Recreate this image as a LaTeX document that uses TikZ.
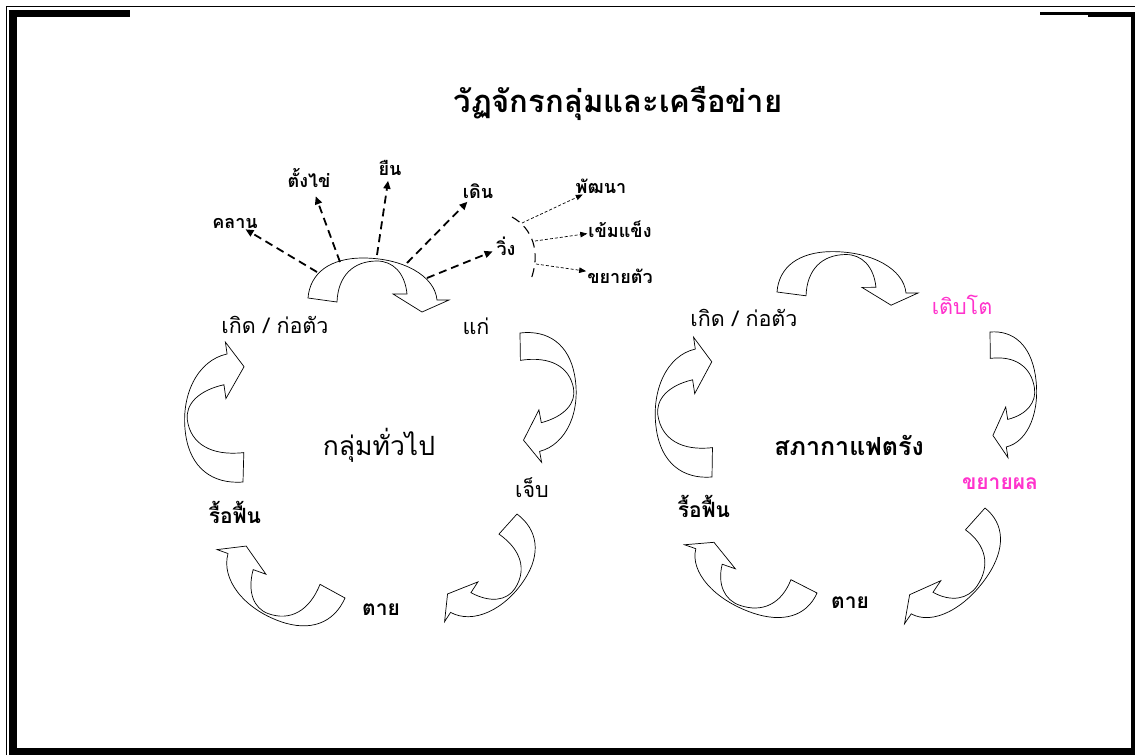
\documentclass[tikz,border=0pt]{standalone}
\usepackage{fontspec}
\newfontfamily\thaifont[Script=Thai]{Loma}
\usetikzlibrary{arrows.meta}
\definecolor{growpink}{RGB}{255,51,204}

% one curved block arrow: tail at (#1,#2), turned by #3, scaled by #4 and #5
\newcommand{\cyclearrow}[5]{%
  \draw[blockarrow, shift={(#1,#2)}, rotate=#3, xscale=#4, yscale=-#5]
    (0,0) .. controls (2,25) and (22,40) .. (55,40)
    .. controls (95,40) and (127,22) .. (129,-2)
    -- (141,-2) -- (114,-14) -- (85,4) -- (99,4)
    .. controls (97,25) and (85,37) .. (69,37)
    .. controls (45,37) and (30,22) .. (29,-4) -- cycle;}

\tikzset{
  titletext/.style={font=\thaifont\bfseries\fontsize{31}{34}\selectfont},
  stagetext/.style={font=\thaifont\fontsize{21.5}{24}\selectfont, inner sep=1pt},
  boldstage/.style={font=\thaifont\bfseries\fontsize{21}{24}\selectfont, inner sep=1pt},
  steptext/.style={font=\thaifont\bfseries\fontsize{18}{20}\selectfont, inner sep=1pt},
  grouptext/.style={font=\thaifont\fontsize{26.5}{29}\selectfont},
  dasharrow/.style={line width=1.8pt, dash pattern=on 8pt off 5pt, -{Triangle[length=8pt,width=7pt]}},
  thinarrow/.style={line width=0.7pt, dash pattern=on 3pt off 2pt, -{Triangle[length=7pt,width=5.5pt]}},
  runarc/.style={line width=1.1pt, dash pattern=on 9pt off 6pt},
  blockarrow/.style={line width=0.7pt, line join=miter}
}

\begin{document}
\begin{tikzpicture}[x=1pt,y=-1pt]
\useasboundingbox (0,0) rectangle (1135,755);
% frame
\fill (9,10) rectangle (16.5,755);
\fill (9,10) rectangle (130,17);
\fill (1040,12) rectangle (1135,15);
\fill (1088,12) rectangle (1135,17);
\fill (1131,12) rectangle (1135,755);
\fill (9,748) rectangle (1135,755);
\draw[line width=1pt] (6,755) -- (6,6.5) -- (1135,6.5);

\node[titletext] (title) at (618,103) {วัฏจักรกลุ่มและเครือข่าย};

% general group
\node[grouptext] (general) at (379,445) {กลุ่มทั่วไป};
\node[stagetext] (born) at (275,325) {เกิด / ก่อตัว};
\node[stagetext] (old) at (476,326) {แก่};
\node[stagetext] (sick) at (532,488) {เจ็บ};
\node[boldstage] (dead) at (381,610) {ตาย};
\node[boldstage] (revive) at (235,512) {รื้อฟื้น};

\node[steptext] (crawl) at (235,223) {คลาน};
\node[steptext] (sit) at (309,178) {ตั้งไข่};
\node[steptext] (stand) at (390,168) {ยืน};
\node[steptext] (walk) at (478,191) {เดิน};
\node[steptext] (run) at (506,246) {วิ่ง};
\node[steptext] (develop) at (601,186) {พัฒนา};
\node[steptext] (strong) at (620,229) {เข้มแข็ง};
\node[steptext] (expand) at (620,276) {ขยายตัว};

\cyclearrow{308}{298}{0}{1}{1}
\cyclearrow{520}{333}{-79.5}{0.93}{1.15}
\cyclearrow{517}{514}{-123}{0.92}{1.05}
\cyclearrow{345}{598}{160.2}{0.97}{1.1}
\cyclearrow{243}{482}{98.2}{1}{1.25}

\coordinate (a1) at (317,272);
\coordinate (a2) at (340,262);
\coordinate (a3) at (377,255);
\coordinate (a4) at (407,263);
\coordinate (a5) at (427,278);
\draw[dasharrow] (a1) -- (crawl);
\draw[dasharrow, shorten >=8pt] (a2) -- (sit);
\draw[dasharrow, shorten >=4pt] (a3) -- (stand);
\draw[dasharrow, shorten >=3pt] (a4) -- (walk);
\draw[dasharrow, shorten >=3pt] (a5) -- (run);

\draw[runarc] (512,217) .. controls (532,228) and (542,252) .. (530,282);
\coordinate (r1) at (522,223);
\coordinate (r2) at (535,241);
\coordinate (r3) at (536,264);
\draw[thinarrow] (r1) -- (develop);
\draw[thinarrow] (r2) -- (strong);
\draw[thinarrow] (r3) -- (expand);

% coffee group
\node[grouptext, font=\thaifont\bfseries\fontsize{25}{28}\selectfont] (coffee) at (849,445) {สภากาแฟตรัง};
\node[stagetext] (born2) at (744,318) {เกิด / ก่อตัว};
\node[stagetext, text=growpink] (grow) at (962,305) {เติบโต};
\node[boldstage, text=growpink] (spread) at (1000,484) {ขยายผล};
\node[boldstage] (dead2) at (850,603) {ตาย};
\node[boldstage] (revive2) at (704,506) {รื้อฟื้น};

\cyclearrow{777}{292}{0.4}{1}{1}
\cyclearrow{990}{332}{-81}{0.9}{0.95}
\cyclearrow{985}{508}{-124}{1}{1}
\cyclearrow{817}{593}{160.8}{1}{1}
\cyclearrow{712}{477}{98.5}{1}{1.2}
\end{tikzpicture}
\end{document}
